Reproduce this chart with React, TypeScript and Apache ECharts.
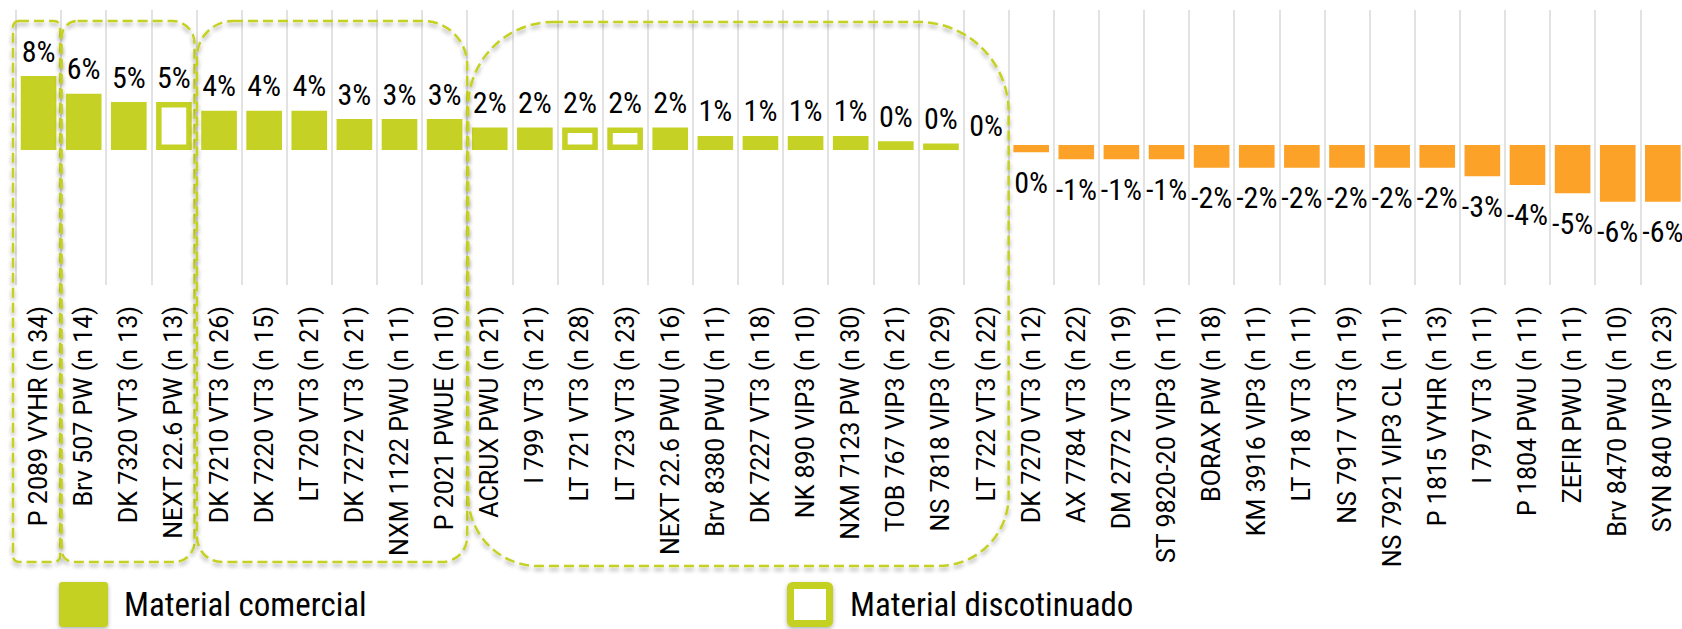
import React, { useEffect, useRef } from 'react';
import * as echarts from 'echarts';

// ---------- DATA ----------
const categories = [
  'P 2089 VYHR (n 34)', 'Brv 507 PW (n 14)', 'DK 7320 VT3 (n 13)', 'NEXT 22.6 PW (n 13)',
  'DK 7210 VT3 (n 26)', 'DK 7220 VT3 (n 15)', 'LT 720 VT3 (n 21)', 'DK 7272 VT3 (n 21)',
  'NXM 1122 PWU (n 11)', 'P 2021 PWUE (n 10)', 'ACRUX PWU (n 21)', 'I 799 VT3 (n 21)',
  'LT 721 VT3 (n 28)', 'LT 723 VT3 (n 23)', 'NEXT 22.6 PWU (n 16)', 'Brv 8380 PWU (n 11)',
  'DK 7227 VT3 (n 18)', 'NK 890 VIP3 (n 10)', 'NXM 7123 PW (n 30)', 'TOB 767 VIP3 (n 21)',
  'NS 7818 VIP3 (n 29)', 'LT 722 VT3 (n 22)', 'DK 7270 VT3 (n 12)', 'AX 7784 VT3 (n 22)',
  'DM 2772 VT3 (n 19)', 'ST 9820-20 VIP3 (n 11)', 'BORAX PW (n 18)', 'KM 3916 VIP3 (n 11)',
  'LT 718 VT3 (n 11)', 'NS 7917 VT3 (n 19)', 'NS 7921 VIP3 CL (n 11)', 'P 1815 VYHR (n 13)',
  'I 797 VT3 (n 11)', 'P 1804 PWU (n 11)', 'ZEFIR PWU (n 11)', 'Brv 8470 PWU (n 10)',
  'SYN 840 VIP3 (n 23)',
];

// bar lengths (%)
const barValues = [
  8.22, 6.26, 5.33, 5.33, 4.37, 4.37, 4.37, 3.44, 3.44, 3.44,
  2.5, 2.5, 2.5, 2.5, 2.5, 1.56, 1.56, 1.56, 1.56, 0.96,
  0.71, 0, -0.81, -1.59, -1.59, -1.59, -2.52, -2.52, -2.52, -2.52,
  -2.52, -2.52, -3.48, -4.44, -5.37, -6.3, -6.3,
];

// printed value labels (%)
const labelValues = [
  8, 6, 5, 5, 4, 4, 4, 3, 3, 3,
  2, 2, 2, 2, 2, 1, 1, 1, 1, 0,
  0, 0, 0, -1, -1, -1, -2, -2, -2, -2,
  -2, -2, -3, -4, -5, -6, -6,
];

const discontinued = ['NEXT 22.6 PW (n 13)', 'LT 721 VT3 (n 28)', 'LT 723 VT3 (n 23)'];

// dashed groups (first / last category of each group)
const groupRanges: [string, string][] = [
  ['P 2089 VYHR (n 34)', 'P 2089 VYHR (n 34)'],
  ['Brv 507 PW (n 14)', 'NEXT 22.6 PW (n 13)'],
  ['DK 7210 VT3 (n 26)', 'P 2021 PWUE (n 10)'],
  ['ACRUX PWU (n 21)', 'LT 722 VT3 (n 22)'],
];

const legendNames = ['Material comercial', 'Material discotinuado'];

// ---------- STYLE ----------
const GREEN = '#c5d124';
const ORANGE = '#fda228';
const H_FONT = "'Roboto Condensed', Roboto";

const boxStyles = [
  { dl: -3, dr: -1, top: 21, bottom: 562, r: [6, 6, 6, 6] },
  { dl: 0.5, dr: -2, top: 21, bottom: 562, r: [16, 22, 20, 12] },
  { dl: 0.5, dr: 0, top: 21, bottom: 562, r: [36, 44, 25, 25] },
  { dl: 1, dr: 0, top: 22, bottom: 566, r: [85, 90, 70, 70] },
];

export default function App() {
  const ref = useRef<HTMLDivElement>(null);

  useEffect(() => {
    if (!ref.current) return;
    const chart = echarts.init(ref.current, undefined, { renderer: 'svg' });

    const isDisc = (i: number) => discontinued.includes(categories[i]);
    const fmt = (p: any) => `${labelValues[p.dataIndex]}%`;
    const posLabel = {
      show: true, position: 'top', distance: 10, formatter: fmt,
      fontSize: 30, fontFamily: H_FONT, color: '#000',
    };

    const option: any = {
      animation: false,
      grid: { left: 16, top: 10, width: 1669.4, height: 275, outerBoundsMode: 'none', containLabel: false },
      xAxis: {
        type: 'category',
        data: categories,
        boundaryGap: true,
        axisLine: { show: false, onZero: false },
        axisTick: { show: false },
        splitLine: { show: true, lineStyle: { color: '#d9d9d9', width: 1.5 } },
        axisLabel: {
          interval: 0, rotate: 90, fontSize: 25, fontFamily: 'Roboto', color: '#000', margin: 21,
        },
      },
      yAxis: [
        { type: 'value', min: -15, max: 15.556, show: false },
        { type: 'value', min: -15.556, max: 15, show: false },
      ],
      series: [
        {
          name: legendNames[0], type: 'bar', yAxisIndex: 0, barWidth: '79%', barGap: '-100%',
          data: barValues.map((v, i) => (v >= 0 && !isDisc(i) ? v : null)),
          itemStyle: { color: GREEN },
          label: posLabel,
        },
        {
          name: legendNames[1], type: 'bar', yAxisIndex: 0, barWidth: '79%', barGap: '-100%',
          data: barValues.map((v, i) => (isDisc(i) ? v : null)),
          itemStyle: { color: '#ffffff', borderColor: GREEN, borderWidth: 5.5 },
          label: posLabel,
        },
        {
          name: 'negativo', type: 'bar', yAxisIndex: 1, barWidth: '79%', barGap: '-100%',
          data: barValues.map((v) => (v < 0 ? v : null)),
          itemStyle: { color: ORANGE },
          label: {
            show: true, position: 'bottom', distance: 15, formatter: fmt,
            fontSize: 30, fontFamily: H_FONT, color: '#000',
          },
        },
      ],
    };
    chart.setOption(option);

    const px = (name: string) => chart.convertToPixel({ xAxisIndex: 0 }, name) as number;
    const band = px(categories[1]) - px(categories[0]);
    const boxes = groupRanges.map(([a, b], k) => {
      const s = boxStyles[k];
      const x0 = px(a) - band / 2 + s.dl;
      const x1 = px(b) + band / 2 + s.dr;
      return {
        type: 'rect', silent: true, z: 20,
        shape: { x: x0, y: s.top, width: x1 - x0, height: s.bottom - s.top, r: s.r },
        style: {
          fill: 'none', stroke: GREEN, lineWidth: 2.5, lineDash: [10, 5],
          shadowBlur: 4, shadowColor: 'rgba(0,0,0,0.35)', shadowOffsetY: 3,
        },
      };
    });

    const legend = [
      {
        type: 'rect', silent: true,
        shape: { x: 59, y: 582, width: 49, height: 45, r: 3 },
        style: { fill: GREEN, shadowBlur: 4, shadowColor: 'rgba(0,0,0,0.3)', shadowOffsetY: 2 },
      },
      {
        type: 'text', silent: true, x: 124, y: 604,
        style: { text: legendNames[0], fontSize: 33, fontFamily: H_FONT, fill: '#000', verticalAlign: 'middle' },
      },
      {
        type: 'rect', silent: true,
        shape: { x: 790.5, y: 585.5, width: 39, height: 38, r: 2 },
        style: { fill: '#fff', stroke: GREEN, lineWidth: 7, shadowBlur: 4, shadowColor: 'rgba(0,0,0,0.3)', shadowOffsetY: 2 },
      },
      {
        type: 'text', silent: true, x: 850, y: 604,
        style: { text: legendNames[1], fontSize: 33, fontFamily: H_FONT, fill: '#000', verticalAlign: 'middle' },
      },
    ];

    chart.setOption({ graphic: [...boxes, ...legend] });

    return () => chart.dispose();
  }, []);

  return (
    <div
      ref={ref}
      style={{ position: 'absolute', left: 0, top: 0, width: 1682, height: 629, background: '#fff' }}
    />
  );
}
